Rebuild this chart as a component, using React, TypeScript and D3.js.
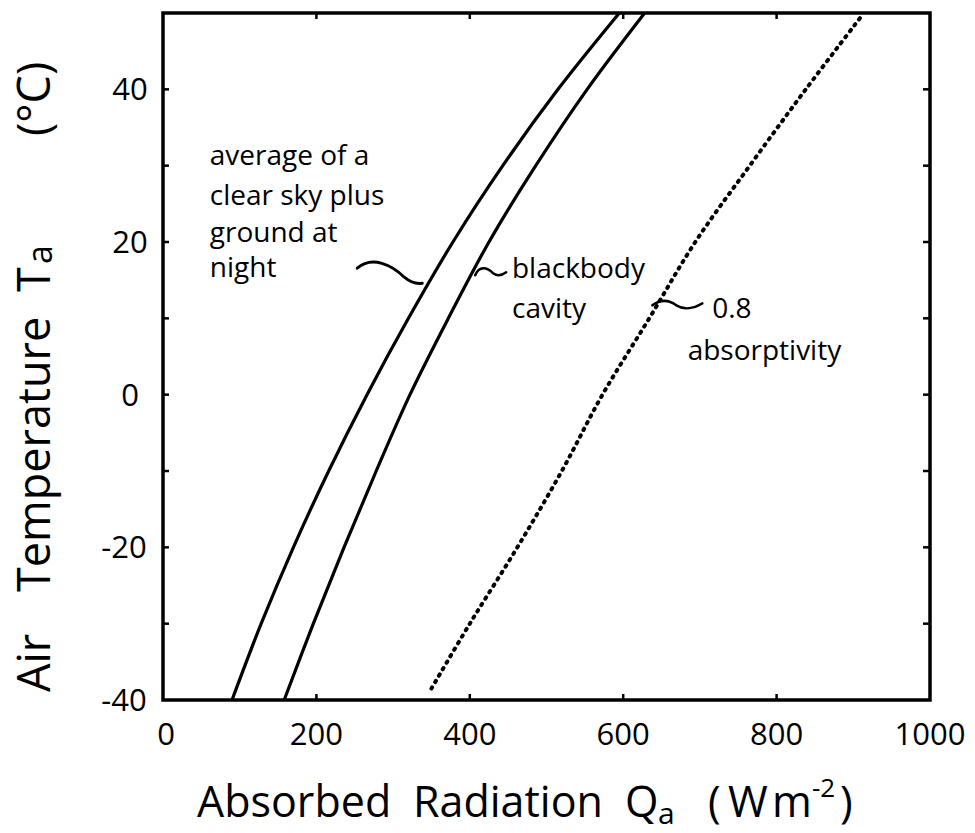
import React from "react";
import * as d3 from "d3";

// ---- data ----
const temps = [-40, -30, -20, -10, 0, 10, 20, 30, 40, 50];
const clearSkyQ = [90, 128, 170, 216, 266, 320, 378, 443, 515, 595];
const blackbodyQ = [158, 196, 236, 278, 322, 372, 425, 486, 553, 628];
const dottedT = [-38.5, -30, -20, -10, 0, 10, 20, 30, 40, 49.5];
const absorp08Q = [350, 400, 462, 520, 573, 634, 694, 765, 838, 910];

const xTicks = [0, 200, 400, 600, 800, 1000];
const yTicks = [-40, -30, -20, -10, 0, 10, 20, 30, 40];
const yLabels = [-40, -20, 0, 20, 40];

const W = 975;
const H = 833;
const FONT = "'Open Sans', Lato, sans-serif";

export default function App() {
  const x = d3.scaleLinear().domain([0, 1000]).range([163, 930]);
  const y = d3.scaleLinear().domain([-40, 50]).range([700, 13]);

  const line = d3
    .line<[number, number]>()
    .x((d) => x(d[0]))
    .y((d) => y(d[1]))
    .curve(d3.curveCatmullRom);

  const clear = line(temps.map((t, i) => [clearSkyQ[i], t]));
  const black = line(temps.map((t, i) => [blackbodyQ[i], t]));
  const dotted = line(dottedT.map((t, i) => [absorp08Q[i], t]));

  // leader squiggles anchored in data coordinates
  const nightEnd = [x(338), y(14.6)];
  const bbStart = [x(407), y(15.9)];
  const abStart = [x(638), y(11.7)];

  const nightPath = `M${nightEnd[0] - 65},${nightEnd[1] - 15} C${nightEnd[0] - 50},${nightEnd[1] - 28} ${nightEnd[0] - 30},${nightEnd[1] - 18} ${nightEnd[0] - 18},${nightEnd[1] - 6} C${nightEnd[0] - 12},${nightEnd[1] - 1} ${nightEnd[0] - 6},${nightEnd[1] + 1} ${nightEnd[0]},${nightEnd[1]}`;
  const bbPath = `M${bbStart[0]},${bbStart[1] + 2} C${bbStart[0] + 4},${bbStart[1] - 8} ${bbStart[0] + 12},${bbStart[1] - 6} ${bbStart[0] + 18},${bbStart[1]} C${bbStart[0] + 22},${bbStart[1] + 3} ${bbStart[0] + 27},${bbStart[1] + 2} ${bbStart[0] + 31},${bbStart[1] - 1}`;
  const abPath = `M${abStart[0]},${abStart[1]} C${abStart[0] + 8},${abStart[1] - 6} ${abStart[0] + 16},${abStart[1] - 6} ${abStart[0] + 24},${abStart[1]} C${abStart[0] + 32},${abStart[1] + 5} ${abStart[0] + 42},${abStart[1] + 3} ${abStart[0] + 50},${abStart[1] - 2}`;

  const annoStyle = { fontFamily: FONT, fontSize: 28, fill: "#000" } as const;

  return (
    <svg
      width={W}
      height={H}
      style={{ position: "absolute", left: 0, top: 0, background: "#fff" }}
    >
      <rect x={0} y={0} width={W} height={H} fill="#fff" />
      {/* frame */}
      <rect
        x={x(0)}
        y={y(50)}
        width={x(1000) - x(0)}
        height={y(-40) - y(50)}
        fill="none"
        stroke="#000"
        strokeWidth={3.5}
      />
      {/* x ticks bottom & top */}
      {xTicks.slice(1, -1).map((v) => (
        <g key={"xt" + v}>
          <line x1={x(v)} x2={x(v)} y1={y(-40)} y2={y(-40) - 6} stroke="#000" strokeWidth={2.5} />
          <line x1={x(v)} x2={x(v)} y1={y(50)} y2={y(50) + 6} stroke="#000" strokeWidth={2.5} />
        </g>
      ))}
      {/* y ticks left & right */}
      {yTicks.slice(1).map((v) => (
        <g key={"yt" + v}>
          <line x1={x(0)} x2={x(0) + 6} y1={y(v)} y2={y(v)} stroke="#000" strokeWidth={2.5} />
          <line x1={x(1000)} x2={x(1000) - 7} y1={y(v)} y2={y(v)} stroke="#000" strokeWidth={2.5} />
        </g>
      ))}
      {/* x tick labels */}
      {xTicks.map((v) => (
        <text
          key={"xl" + v}
          x={x(v) + (v === 0 ? 3 : 0)}
          y={745}
          textAnchor="middle"
          style={{ fontFamily: FONT, fontSize: 31 }}
        >
          {v}
        </text>
      ))}
      {/* y tick labels */}
      {yLabels.map((v) => (
        <text
          key={"yl" + v}
          x={v < 0 ? 124 : 130}
          y={y(v)}
          dy="0.36em"
          textAnchor="middle"
          style={{ fontFamily: FONT, fontSize: 31 }}
        >
          {v < 0 ? "-" + Math.abs(v) : v}
        </text>
      ))}

      {/* curves */}
      <path d={clear ?? ""} fill="none" stroke="#000" strokeWidth={3.2} />
      <path d={black ?? ""} fill="none" stroke="#000" strokeWidth={3.2} />
      <path
        d={dotted ?? ""}
        fill="none"
        stroke="#000"
        strokeWidth={4}
        strokeLinecap="round"
        strokeDasharray="1.5 6"
      />

      {/* leaders */}
      <path d={nightPath} fill="none" stroke="#000" strokeWidth={3} strokeLinecap="round" />
      <path d={bbPath} fill="none" stroke="#000" strokeWidth={2.5} strokeLinecap="round" />
      <path d={abPath} fill="none" stroke="#000" strokeWidth={2.5} strokeLinecap="round" />

      {/* annotations */}
      <text x={x(61)} y={y(30.1)} style={annoStyle}>average of a</text>
      <text x={x(61)} y={y(24.8)} style={annoStyle}>clear sky plus</text>
      <text x={x(61)} y={y(20.0)} style={annoStyle}>ground at</text>
      <text x={x(61)} y={y(15.4)} style={annoStyle}>night</text>
      <text x={x(455)} y={y(15.3)} style={annoStyle}>blackbody</text>
      <text x={x(455)} y={y(10.0)} style={annoStyle}>cavity</text>
      <text x={x(716)} y={y(10.0)} style={annoStyle}>0.8</text>
      <text x={x(684)} y={y(4.5)} style={annoStyle}>absorptivity</text>

      {/* x axis title */}
      <g style={{ fontFamily: FONT, fontSize: 43 }}>
        <text x={197} y={817}>Absorbed</text>
        <text x={413} y={817}>Radiation</text>
        <text x={625} y={817}>Q</text>
        <text x={658} y={824} style={{ fontSize: 30 }}>a</text>
        <text x={708} y={817}>(</text>
        <text x={728} y={817}>W</text>
        <text x={772} y={817}>m</text>
        <text x={812} y={797} style={{ fontSize: 26 }}>-2</text>
        <text x={840} y={817}>)</text>
      </g>

      {/* y axis title */}
      <g transform="translate(50,692) rotate(-90)" style={{ fontFamily: FONT, fontSize: 45 }}>
        <text x={0} y={0}>Air</text>
        <text x={100} y={0}>Temperature</text>
        <text x={400} y={0}>T</text>
        <text x={428} y={2} style={{ fontSize: 34 }}>a</text>
        <text x={556} y={0}>(°C)</text>
      </g>
    </svg>
  );
}
